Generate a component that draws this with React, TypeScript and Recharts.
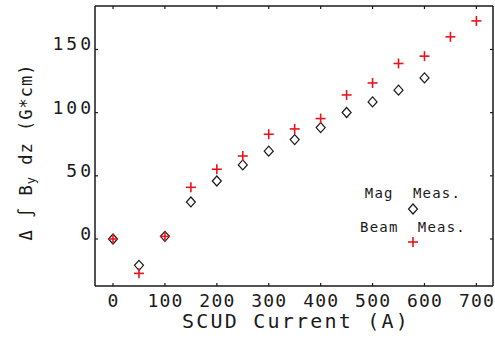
import React from "react";
import { ScatterChart, Scatter, XAxis, YAxis } from "recharts";

const beamCurrents = [0, 50, 100, 150, 200, 250, 300, 350, 400, 450, 500, 550, 600, 650, 700];
const beamMeas = [0, -27.2, 2.1, 40.9, 55.2, 65.7, 82.9, 87.1, 95.3, 114, 123.5, 138.9, 144.7, 160, 172.6];
const magCurrents = [0, 50, 100, 150, 200, 250, 300, 350, 400, 450, 500, 550, 600];
const magMeas = [0, -20.8, 2.1, 29.3, 45.9, 58.6, 69.5, 78.7, 88.2, 100.1, 108.5, 117.8, 127.5];
const xTicks = [0, 100, 200, 300, 400, 500, 600, 700];
const yTicks = [0, 50, 100, 150];
const legendLabels = ["Mag  Meas.", "Beam  Meas."];
const xTitle = "SCUD Current (A)";

const beamData = beamCurrents.map((c, i) => ({ x: c, y: beamMeas[i] }));
const magData = magCurrents.map((c, i) => ({ x: c, y: magMeas[i] }));

const FONT = "'DejaVu Sans Mono', monospace";
const RED = "#e8141c";
const INK = "#1a1a1a";

const Plus = (p: any) => {
  const { cx, cy } = p;
  return (
    <g>
      <line x1={cx - 5} y1={cy} x2={cx + 5} y2={cy} stroke={RED} strokeWidth={1.6} />
      <line x1={cx} y1={cy - 5} x2={cx} y2={cy + 5} stroke={RED} strokeWidth={1.6} />
    </g>
  );
};

const Diamond = (p: any) => {
  const { cx, cy } = p;
  return (
    <path
      d={`M${cx},${cy - 5} L${cx + 4.5},${cy} L${cx},${cy + 5} L${cx - 4.5},${cy} Z`}
      fill="#fff"
      stroke={INK}
      strokeWidth={1.2}
    />
  );
};

const Nothing = () => <g />;

const BottomTick = (p: any) => {
  const { x, y, payload } = p;
  return (
    <g>
      <line x1={x} y1={y} x2={x} y2={y - 3} stroke={INK} strokeWidth={1.2} />
      <text x={x + 0.6} y={y + 21} textAnchor="middle" fontFamily={FONT} fontSize={18} letterSpacing={1.2} fill={INK}>
        {payload.value}
      </text>
    </g>
  );
};

const TopTick = (p: any) => {
  const { x, y } = p;
  return <line x1={x} y1={y} x2={x} y2={y + 3} stroke={INK} strokeWidth={1.2} />;
};

const LeftTick = (p: any) => {
  const { x, y, payload } = p;
  return (
    <g>
      <line x1={x} y1={y} x2={x + 3} y2={y} stroke={INK} strokeWidth={1.2} />
      <text x={x - 1} y={y + 1} textAnchor="end" fontFamily={FONT} fontSize={18} letterSpacing={3} fill={INK}>
        {payload.value}
      </text>
    </g>
  );
};

const RightTick = (p: any) => {
  const { x, y } = p;
  return <line x1={x} y1={y} x2={x - 3} y2={y} stroke={INK} strokeWidth={1.2} />;
};

const LegendBox = () => (
  <svg width={130} height={70} style={{ display: "block" }}>
    <text x={58} y={13} textAnchor="middle" fontFamily={FONT} fontSize={14} letterSpacing={1.2} fill={INK} style={{ whiteSpace: "pre" }}>
      {legendLabels[0]}
    </text>
    <Diamond cx={58} cy={24} />
    <text x={58} y={47} textAnchor="middle" fontFamily={FONT} fontSize={14} letterSpacing={1.2} fill={INK} style={{ whiteSpace: "pre" }}>
      {legendLabels[1]}
    </text>
    <Plus cx={58} cy={57} />
  </svg>
);

export default function App() {
  return (
    <div style={{ position: "absolute", left: 0, top: 0, width: 495, height: 343, background: "#fff" }}>
      <ScatterChart width={495} height={343} margin={{ top: 5, right: 1, bottom: 0, left: 0 }}>
        <XAxis
          xAxisId="b"
          dataKey="x"
          type="number"
          domain={[-34.7, 732]}
          allowDataOverflow
          ticks={xTicks}
          height={57}
          tickSize={0}
          tickMargin={0}
          tickLine={false}
          tick={<BottomTick />}
          axisLine={{ stroke: INK, strokeWidth: 1.5 }}
          label={{
            content: () => (
              <text x={296} y={328} textAnchor="middle" fontFamily={FONT} fontSize={20} letterSpacing={2.2} fill={INK}>
                {xTitle}
              </text>
            ),
          }}
        />
        <XAxis
          xAxisId="t"
          dataKey="x"
          orientation="top"
          type="number"
          domain={[-34.7, 732]}
          allowDataOverflow
          ticks={xTicks}
          height={1}
          tickSize={0}
          tickMargin={0}
          tickLine={false}
          tick={<TopTick />}
          axisLine={{ stroke: INK, strokeWidth: 1.5 }}
        />
        <YAxis
          yAxisId="l"
          dataKey="y"
          type="number"
          domain={[-37.2, 184.4]}
          allowDataOverflow
          ticks={yTicks}
          width={95}
          tickSize={0}
          tickMargin={0}
          tickLine={false}
          tick={<LeftTick />}
          axisLine={{ stroke: INK, strokeWidth: 1.5 }}
          label={{
            content: () => (
              <text
                x={26}
                y={152}
                transform="rotate(-90, 26, 152)"
                textAnchor="middle"
                dominantBaseline="central"
                fontFamily={FONT}
                fontSize={17}
                letterSpacing={1}
                fill={INK}
              >
                {"Δ ∫ B"}
                <tspan fontSize={12} dy={5}>y</tspan>
                <tspan dy={-5}>{" dz (G*cm)"}</tspan>
              </text>
            ),
          }}
        />
        <YAxis
          yAxisId="r"
          dataKey="y"
          orientation="right"
          type="number"
          domain={[-37.2, 184.4]}
          allowDataOverflow
          ticks={yTicks}
          width={1}
          tickSize={0}
          tickMargin={0}
          tickLine={false}
          tick={<RightTick />}
          axisLine={{ stroke: INK, strokeWidth: 1.5 }}
        />
        <Scatter xAxisId="t" yAxisId="r" data={magData} shape={<Nothing />} isAnimationActive={false} />
        <Scatter xAxisId="b" yAxisId="l" data={magData} shape={<Diamond />} isAnimationActive={false} />
        <Scatter xAxisId="b" yAxisId="l" data={beamData} shape={<Plus />} isAnimationActive={false} />
      </ScatterChart>
      <div style={{ position: "absolute", left: 355, top: 185 }}>
        <LegendBox />
      </div>
    </div>
  );
}
